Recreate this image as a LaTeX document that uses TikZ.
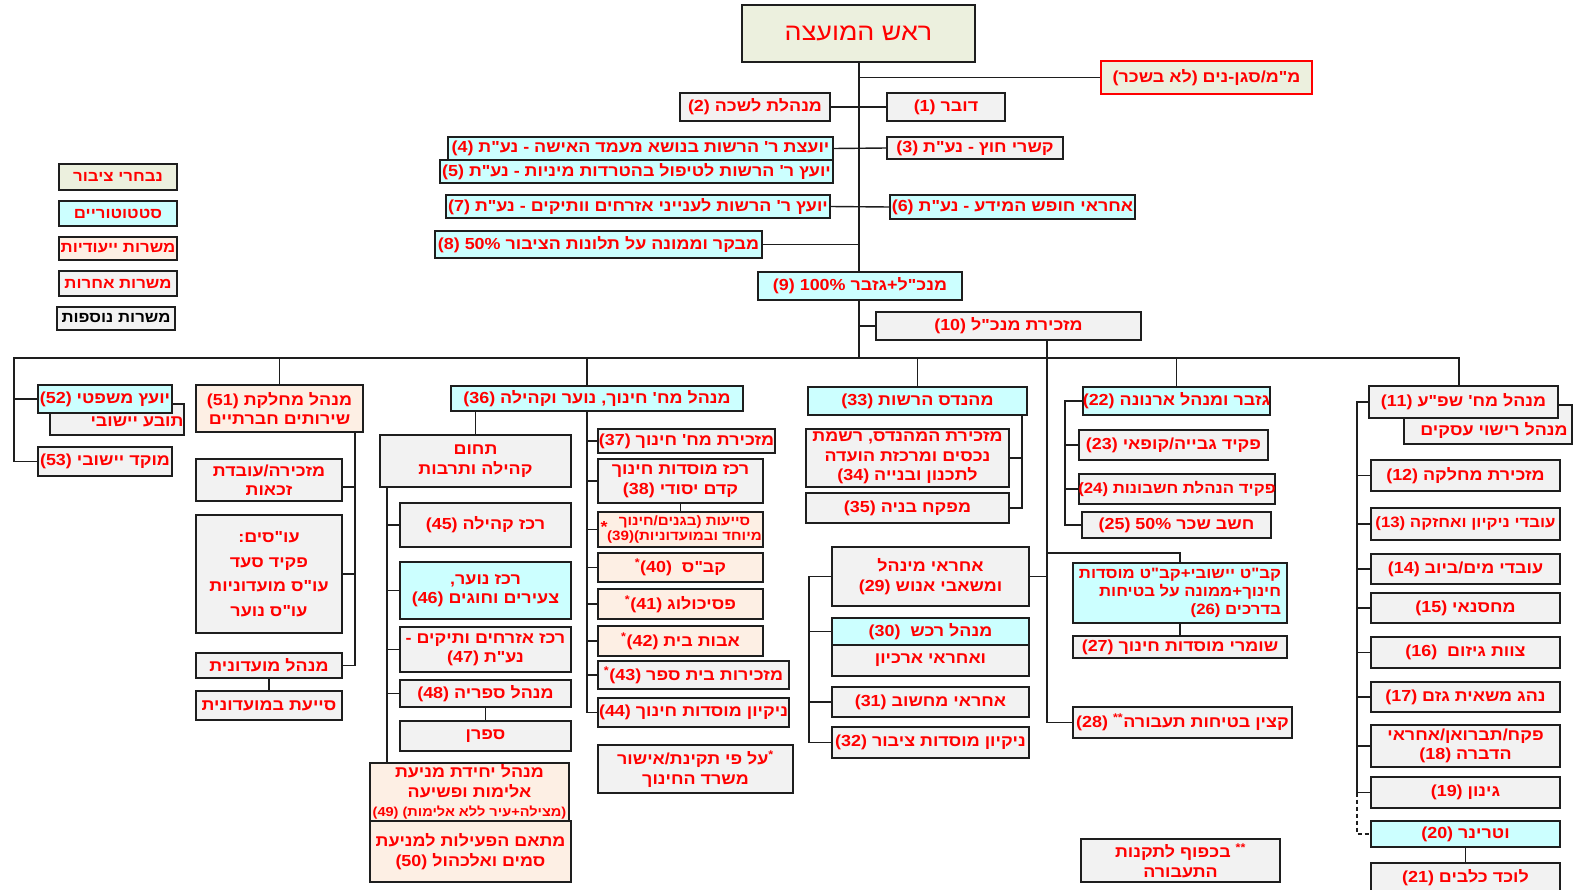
\documentclass[tikz,border=0pt]{standalone}
\usepackage{fontspec}
\newfontfamily\hebfont[Script=Hebrew,FakeStretch=1.12]{Liberation Sans}
\TeXXeTstate=1
\pgfdeclarelayer{bg}
\pgfsetlayers{bg,main}
\definecolor{cgray}{RGB}{242,242,242}
\definecolor{ccyan}{RGB}{204,255,255}
\definecolor{cpeach}{RGB}{253,239,228}
\definecolor{cbeige}{RGB}{236,240,222}
\definecolor{cline}{RGB}{30,30,30}
\definecolor{ctext}{RGB}{255,0,0}
\newcommand\R[1]{\beginR#1\endR}
\newcommand\sep{\kern0pt}
\newcommand\opn{\kern0pt(\kern0pt}
\newcommand\cls{\kern0pt)\kern0pt}
\newcommand\st{\textsuperscript{*}}
\newcommand\bx[8][]{%
  \node[#7, minimum width={(#5-#3)*1pt}, minimum height={(#6-#4)*1pt}] (#2) at ({(#3+#5)/2},{(#4+#6)/2}) {};
  \node[txt,#1] at (#2.center) {#8};}
\tikzset{
  box/.style={draw=cline, line width=1.4pt, inner sep=0pt, outer sep=0pt},
  gb/.style={box, fill=cgray},
  cb/.style={box, fill=ccyan},
  pb/.style={box, fill=cpeach},
  yb/.style={box, fill=cbeige},
  txt/.style={text=ctext, inner sep=0pt, align=center},
  ln/.style={draw=cline, line width=1.4pt},
  small/.style={font=\hebfont\bfseries\fontsize{13.5}{15}\selectfont},
  snug/.style={font=\hebfont\bfseries\fontsize{15}{18}\selectfont}
}
\begin{document}
\begin{tikzpicture}[x=1pt,y=-1pt, font=\hebfont\bfseries\fontsize{16}{19.5}\selectfont]
\useasboundingbox (0,0) rectangle (1574,889);
\clip (0,0) rectangle (1574,889);
% top
\bx{top}{742}{5}{975}{62}{yb}{\fontsize{24}{28}\selectfont\mdseries\R{ראש המועצה}}
\bx{mm}{1101}{61}{1312}{94}{yb,draw=red}{\R{מ"מ/סגן-נים \opn לא בשכר\cls}}
\bx{n1}{887}{93}{1005}{121}{gb}{\R{דובר (1)}}
\bx{n2}{680}{93}{830}{121}{gb}{\R{מנהלת לשכה (2)}}
\bx{n3}{887}{137}{1063}{159}{gb}{\R{קשרי חוץ - נע"ת (3)}}
\bx{n4}{448}{137}{833}{160}{cb}{\R{יועצת ר\sep' הרשות בנושא מעמד האישה - נע"ת (4)}}
\bx{n5}{440}{160}{833}{183}{cb}{\R{יועץ ר\sep' הרשות לטיפול בהטרדות מיניות - נע"ת (5)}}
\bx{n6}{890}{195}{1135}{219}{cb}{\R{אחראי חופש המידע - נע"ת (6)}}
\bx{n7}{446}{195}{830}{218}{cb}{\R{יועץ ר\sep' הרשות לענייני אזרחים וותיקים - נע"ת (7)}}
\bx{n8}{435}{231}{762}{258}{cb}{\R{מבקר וממונה על תלונות הציבור 50\% (8)}}
\bx{n9}{758}{272}{962}{300}{cb}{\R{מנכ"ל+גזבר 100\% (9)}}
\bx{n10}{876}{312}{1141}{340}{gb}{\R{מזכירת מנכ"ל (10)}}
% legend
\bx[snug]{lg1}{59}{164}{177}{190}{yb}{\R{נבחרי ציבור}}
\bx[snug]{lg2}{59}{201}{177}{226}{cb}{\R{סטטוטוריים}}
\bx[snug]{lg3}{59}{237}{177}{260}{pb}{\R{משרות ייעודיות}}
\bx[snug]{lg4}{59}{271}{177}{296}{gb}{\R{משרות אחרות}}
\bx[snug,text=black]{lg5}{57}{307}{175}{330}{gb}{\R{משרות נוספות}}
% left group
\bx[xshift=20pt,yshift=-2pt]{ntv}{50}{404}{184}{435}{gb}{\R{תובע יישובי}}
\bx{n52}{38}{385}{172}{413}{cb}{\R{יועץ משפטי (52)}}
\bx{n53}{38}{447}{172}{476}{gb}{\R{מוקד יישובי (53)}}
\bx{n51}{196}{385}{363}{432}{pb}{\R{מנהל מחלקת (51)}\\\R{שירותים חברתיים}}
\bx{nzk}{196}{459}{342}{501}{gb}{\R{מזכירה/עובדת}\\\R{זכאות}}
\bx{nos}{196}{515}{342}{633}{gb}{\R{עו"סים\sep:}\\[5pt]\R{פקיד סעד}\\[5pt]\R{עו"ס מועדוניות}\\[5pt]\R{עו"ס נוער}}
\bx{nmo}{196}{653}{342}{678}{gb}{\R{מנהל מועדונית}}
\bx{nsy}{196}{691}{342}{720}{gb}{\R{סייעת במועדונית}}
% education
\bx{n36}{451}{386}{743}{411}{cb}{\R{מנהל מח\sep' חינוך\sep, נוער וקהילה (36)}}
\bx{ntc}{380}{435}{571}{487}{gb}{\R{תחום}\\\R{קהילה ותרבות}}
\bx{n45}{400}{503}{571}{547}{gb}{\R{רכז קהילה (45)}}
\bx{n46}{400}{562}{571}{619}{cb}{\R{רכז נוער\sep,}\\\R{צעירים וחוגים (46)}}
\bx{n47}{400}{627}{571}{672}{gb}{\R{רכז אזרחים ותיקים -}\\\R{נע"ת (47)}}
\bx{n48}{400}{680}{571}{707}{gb}{\R{מנהל ספריה (48)}}
\bx{nsp}{400}{721}{571}{751}{gb}{\R{ספרן}}
\bx{n49}{370}{763}{569}{821}{pb}{\R{מנהל יחידת מניעת}\\\R{אלימות ופשיעה}\\{\fontsize{13}{15}\selectfont\R{\opn מצילה+עיר ללא אלימות\cls{} (49)}}}
\bx{n50}{370}{821}{571}{882}{pb}{\R{מתאם הפעילות למניעת}\\\R{סמים ואלכהול (50)}}
\bx{n37}{598}{429}{775}{453}{gb}{\R{מזכירת מח\sep' חינוך (37)}}
\bx{n38}{598}{459}{763}{503}{gb}{\R{רכז מוסדות חינוך}\\\R{קדם יסודי (38)}}
\bx[small,xshift=4pt]{n39}{598}{512}{763}{547}{pb}{\R{סייעות \opn בגנים/חינוך}\\\R{מיוחד ובמועדוניות\cls(39)}}
\node[txt] (st39) at (604,527) {*};
\bx{n40}{598}{553}{763}{582}{pb}{\R{קב"ס\ \ (40)\st}}
\bx{n41}{598}{589}{763}{619}{pb}{\R{פסיכולוג (41)\st}}
\bx{n42}{598}{626}{763}{656}{pb}{\R{אבות בית (42)\st}}
\bx{n43}{598}{661}{789}{689}{gb}{\R{מזכירות בית ספר (43)\st}}
\bx{n44}{598}{698}{789}{727}{gb}{\R{ניקיון מוסדות חינוך (44)}}
\bx{nnt}{598}{745}{793}{793}{gb}{\R{\st על פי תקינת/אישור}\\\R{משרד החינוך}}
% engineer
\bx{n33}{808}{387}{1027}{415}{cb}{\R{מהנדס הרשות (33)}}
\bx{n34}{806}{429}{1009}{487}{gb}{\R{מזכירת המהנדס\sep, רשמת}\\\R{נכסים ומרכזת הועדה}\\\R{לתכנון ובנייה (34)}}
\bx{n35}{806}{493}{1009}{523}{gb}{\R{מפקח בניה (35)}}
% admin
\bx{n29}{832}{547}{1029}{606}{gb}{\R{אחראי מינהל}\\\R{ומשאבי אנוש (29)}}
\bx{n30b}{832}{645}{1029}{676}{gb}{\R{ואחראי ארכיון}}
\bx{n30}{832}{618}{1029}{645}{cb}{\R{מנהל רכש\ \ (30)}}
\bx{n31}{832}{687}{1029}{717}{gb}{\R{אחראי מחשוב (31)}}
\bx{n32}{832}{727}{1029}{758}{gb}{\R{ניקיון מוסדות ציבור (32)}}
% finance
\bx{n22}{1083}{387}{1270}{415}{cb}{\R{גזבר ומנהל ארנונה (22)}}
\bx{n23}{1079}{430}{1268}{460}{gb}{\R{פקיד גבייה/קופאי (23)}}
\bx[snug]{n24}{1079}{474}{1275}{504}{gb}{\R{פקיד הנהלת חשבונות (24)}}
\bx{n25}{1082}{512}{1271}{538}{gb}{\R{חשב שכר 50\% (25)}}
\bx[snug,align=right]{n26}{1073}{563}{1287}{623}{cb}{\R{קב"ט יישובי+קב"ט מוסדות}\\\R{חינוך+ממונה על בטיחות}\\\R{בדרכים (26)}}
\bx{n27}{1073}{636}{1287}{658}{gb}{\R{שומרי מוסדות חינוך (27)}}
\bx{n28}{1073}{707}{1292}{738}{gb}{\R{קצין בטיחות תעבורה\textsuperscript{**} (28)}}
\bx{nnt2}{1081}{839}{1280}{882}{gb}{\R{\textsuperscript{**} בכפוף לתקנות}\\\R{התעבורה}}
% public works
\bx[xshift=6pt,yshift=-6pt]{nrs}{1404}{405}{1572}{444}{gb}{\R{מנהל רישוי עסקים}}
\bx{n11}{1369}{386}{1558}{418}{gb}{\R{מנהל מח\sep' שפ"ע (11)}}
\bx{n12}{1371}{460}{1560}{491}{gb}{\R{מזכירת מחלקה (12)}}
\bx[snug]{n13}{1371}{508}{1560}{540}{gb}{\R{עובדי ניקיון ואחזקה (13)}}
\bx{n14}{1371}{554}{1560}{584}{gb}{\R{עובדי מים/ביוב (14)}}
\bx{n15}{1371}{593}{1560}{623}{gb}{\R{מחסנאי (15)}}
\bx{n16}{1371}{637}{1560}{668}{gb}{\R{צוות גיזום\ \ (16)}}
\bx{n17}{1371}{682}{1560}{712}{gb}{\R{נהג משאית גזם (17)}}
\bx{n18}{1371}{725}{1560}{767}{gb}{\R{פקח/תברואן/אחראי}\\\R{הדברה (18)}}
\bx{n19}{1371}{777}{1560}{808}{gb}{\R{גינון (19)}}
\bx{n20}{1371}{821}{1560}{847}{cb}{\R{וטרינר (20)}}
\bx{n21}{1371}{863}{1560}{892}{gb}{\R{לוכד כלבים (21)}}
% connectors
\begin{pgfonlayer}{bg}
\fill[white] (0,0) rectangle (1574,889);
\coordinate (tj) at (859,358);
\coordinate (bl) at (14,358);
\coordinate (br) at (1459,358);
\draw[ln] (top.south -| tj) -- (tj);
\draw[ln] (mm.west) -- (mm.west -| tj);
\draw[ln] (n2.east) -- (n1.west);
\draw[ln] (n4.east) -- (n3.west);
\draw[ln] (n7.east) -- (n6.west);
\draw[ln] (n8.east) -- (n8.east -| tj);
\draw[ln] (n10.west) -- (n10.west -| tj);
\draw[ln] (n53.west) -| (bl) -- (br) -- (br |- n11.north);
\draw[ln] (n52.west) -- (n52.west -| bl);
\draw[ln] (n51.north) -- (n51.north |- bl);
\coordinate (d36) at (587,358);
\draw[ln] (d36) -- (d36 |- n36.north);
\draw[ln] (n33.north) -- (n33.north |- bl);
\draw[ln] (n22.north) -- (n22.north |- bl);
% social
\coordinate (ss) at (355,432);
\draw[ln] (ss) |- (nmo.east);
\draw[ln] ([yshift=-7pt]nzk.east) -- ([yshift=-7pt]nzk.east -| ss);
\draw[ln] (nos.east) -- (nos.east -| ss);
\draw[ln] (nmo.south) -- (nsy.north);
% education
\draw[ln] (n36.south -| ntc.north) -- (ntc.north);
\coordinate (s36) at (587,411);
\draw[ln] (s36) |- (n44.west);
\foreach \n in {n37,n38,n39,n40,n41,n42,n43} \draw[ln] (\n.west) -- (\n.west -| s36);
\draw[ln] (n38.south) -- (n39.north);
\coordinate (sc) at (387,487);
\draw[ln] (sc) -- (sc |- n49.north);
\foreach \n in {n45,n46,n47,n48} \draw[ln] (\n.west) -- (\n.west -| sc);
\draw[ln] (n48.south) -- (nsp.north);
% engineer
\coordinate (se) at (1022,415);
\draw[ln] (se) |- (n35.east);
\draw[ln] (n34.east) -- (n34.east -| se);
% admin
\coordinate (sa) at (809,0);
\draw[ln] (n29.west) -- (n29.west -| sa) |- (n32.west);
\foreach \n in {n30,n31} \draw[ln] (\n.west) -- (\n.west -| sa);
% from 10
\coordinate (s10) at (1047,340);
\draw[ln] (s10) |- (n28.west);
\draw[ln] (n29.east) -- (n29.east -| s10);
\coordinate (j26) at (1047,553);
\draw[ln] (j26) -| (n26.north);
\draw[ln] (n26.south) -- (n27.north);
% finance
\coordinate (sf) at (1065,0);
\draw[ln] (n22.west) -- (n22.west -| sf) |- (n25.west);
\foreach \n in {n23,n24} \draw[ln] (\n.west) -- (\n.west -| sf);
% public works
\coordinate (sw) at (1357,0);
\draw[ln] (n11.west) -- (n11.west -| sw) |- (n19.west);
\foreach \n in {n12,n13,n14,n15,n16,n17,n18} \draw[ln] (\n.west) -- (\n.west -| sw);
\draw[ln,dash pattern=on 4pt off 3pt] (n19.west -| sw) -- (sw |- n20.west) -- (n20.west);
\draw[ln] (n20.south) -- (n21.north);
\end{pgfonlayer}
\end{tikzpicture}
\end{document}
